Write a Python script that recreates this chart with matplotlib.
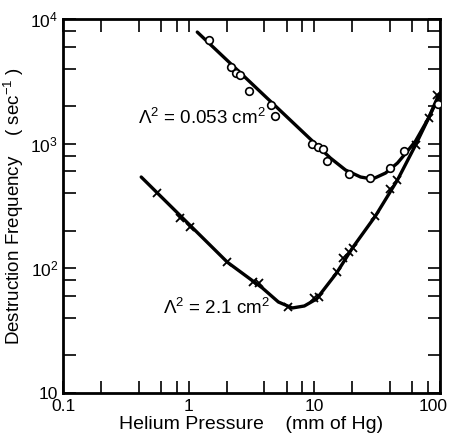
import matplotlib
matplotlib.use("Agg")
import matplotlib.pyplot as plt
from matplotlib.transforms import ScaledTranslation
from matplotlib.ticker import LogLocator, NullFormatter, FixedLocator, FixedFormatter

plt.rcParams["font.family"] = ["Liberation Sans", "DejaVu Sans"]
plt.rcParams["mathtext.fontset"] = "custom"
plt.rcParams["mathtext.rm"] = "Liberation Sans"
plt.rcParams["mathtext.it"] = "Liberation Sans"

# Lambda^2 = 0.053 cm^2 (open circles)
p_small = [1.455, 2.18, 2.39, 2.57, 3.03, 4.54, 4.89, 9.64, 10.6, 11.6, 12.5,
           18.7, 27.9, 39.6, 51.2, 95.5]
f_small = [6776, 4110, 3680, 3548, 2642, 2040, 1665, 993, 940, 906, 725,
           570, 535, 637, 871, 2080]

# Lambda^2 = 2.1 cm^2 (crosses)
p_large = [0.561, 0.855, 1.03, 2.03, 3.27, 3.65, 6.21, 10.0, 10.8, 15.0, 17.0,
           18.7, 20.1, 30.6, 40.3, 45.8, 63.8, 81.0, 93.8]
f_large = [402, 253, 214, 112, 77.6, 76.2, 49, 57.8, 58.9, 93.5, 121,
           135, 146, 263, 432, 511, 975, 1605, 2455]

# hand-drawn curves through the data
curve_small_p = [1.17, 13.4, 17.7, 23.3, 29.0, 36.8, 45.8, 55.1, 63.8, 81.0, 97.3]
curve_small_f = [7850, 767, 614, 540, 520, 581, 699, 873, 1050, 1605, 2366]
curve_large_p = [0.419, 2.03, 3.86, 5.17, 6.68, 8.32, 10.4, 15.0, 20.1, 30.6,
                 45.8, 63.8, 81.0, 97.3]
curve_large_f = [540, 112, 69.5, 53.7, 48.1, 49.9, 56.8, 91.6, 146, 263,
                 511, 975, 1605, 2455]

x_ticks = [0.1, 1, 10, 100]
x_labels = ["0.1", "1", "10", "100"]
y_ticks = [10, 100, 1000, 10000]
y_labels = ["10", "$10^2$", "$10^3$", "$10^4$"]

fig = plt.figure(figsize=(4.5, 4.38), dpi=100)
ax = fig.add_axes([0.14, 0.1027, 0.838, 0.854])

ax.plot(curve_small_p, curve_small_f, color="black", linewidth=2.4,
        solid_capstyle="round", zorder=2)
ax.plot(curve_large_p, curve_large_f, color="black", linewidth=2.4,
        solid_capstyle="round", zorder=2)
ax.plot(p_small, f_small, linestyle="none", marker="o", markersize=5.5,
        markerfacecolor="white", markeredgecolor="black", markeredgewidth=1.2,
        zorder=3)
ax.plot(p_large, f_large, linestyle="none", marker="x", markersize=6,
        color="black", markeredgewidth=1.3, zorder=3)

ax.set_xscale("log")
ax.set_yscale("log")
ax.set_xlim(0.1, 100)
ax.set_ylim(10, 10000)

ax.xaxis.set_major_locator(FixedLocator(x_ticks))
ax.yaxis.set_major_locator(FixedLocator(y_ticks))
ax.xaxis.set_minor_locator(LogLocator(base=10, subs=(2, 4, 6, 8)))
ax.yaxis.set_minor_locator(LogLocator(base=10, subs=(2, 4, 6, 8)))
ax.xaxis.set_minor_formatter(NullFormatter())
ax.yaxis.set_minor_formatter(NullFormatter())
ax.set_xticklabels(x_labels, fontsize=12.5)
ax.set_yticklabels(y_labels, fontsize=12.5)

ax.tick_params(which="both", direction="in", length=9, width=1.2,
               top=True, right=True)
ax.tick_params(axis="x", which="major", pad=4)
for sp in ax.spines.values():
    sp.set_linewidth(2)

# keep the "100" label inside the figure edge
last = ax.get_xticklabels()[-1]
last.set_transform(last.get_transform() + ScaledTranslation(-5 / 72, 0, fig.dpi_scale_trans))

ax.text(0.396, 1600, r"$\Lambda^2$ = 0.053 cm$^2$", fontsize=13.5, va="center",
        ha="left")
ax.text(0.626, 48, r"$\Lambda^2$ = 2.1 cm$^2$", fontsize=13.5, va="center",
        ha="left")

ax.set_xlabel("Helium Pressure    (mm of Hg)", fontsize=14, labelpad=2)
ax.set_ylabel("Destruction Frequency    ( sec$^{-1}$ )", fontsize=13.5, labelpad=3)

fig.savefig("out.png", dpi=100)
